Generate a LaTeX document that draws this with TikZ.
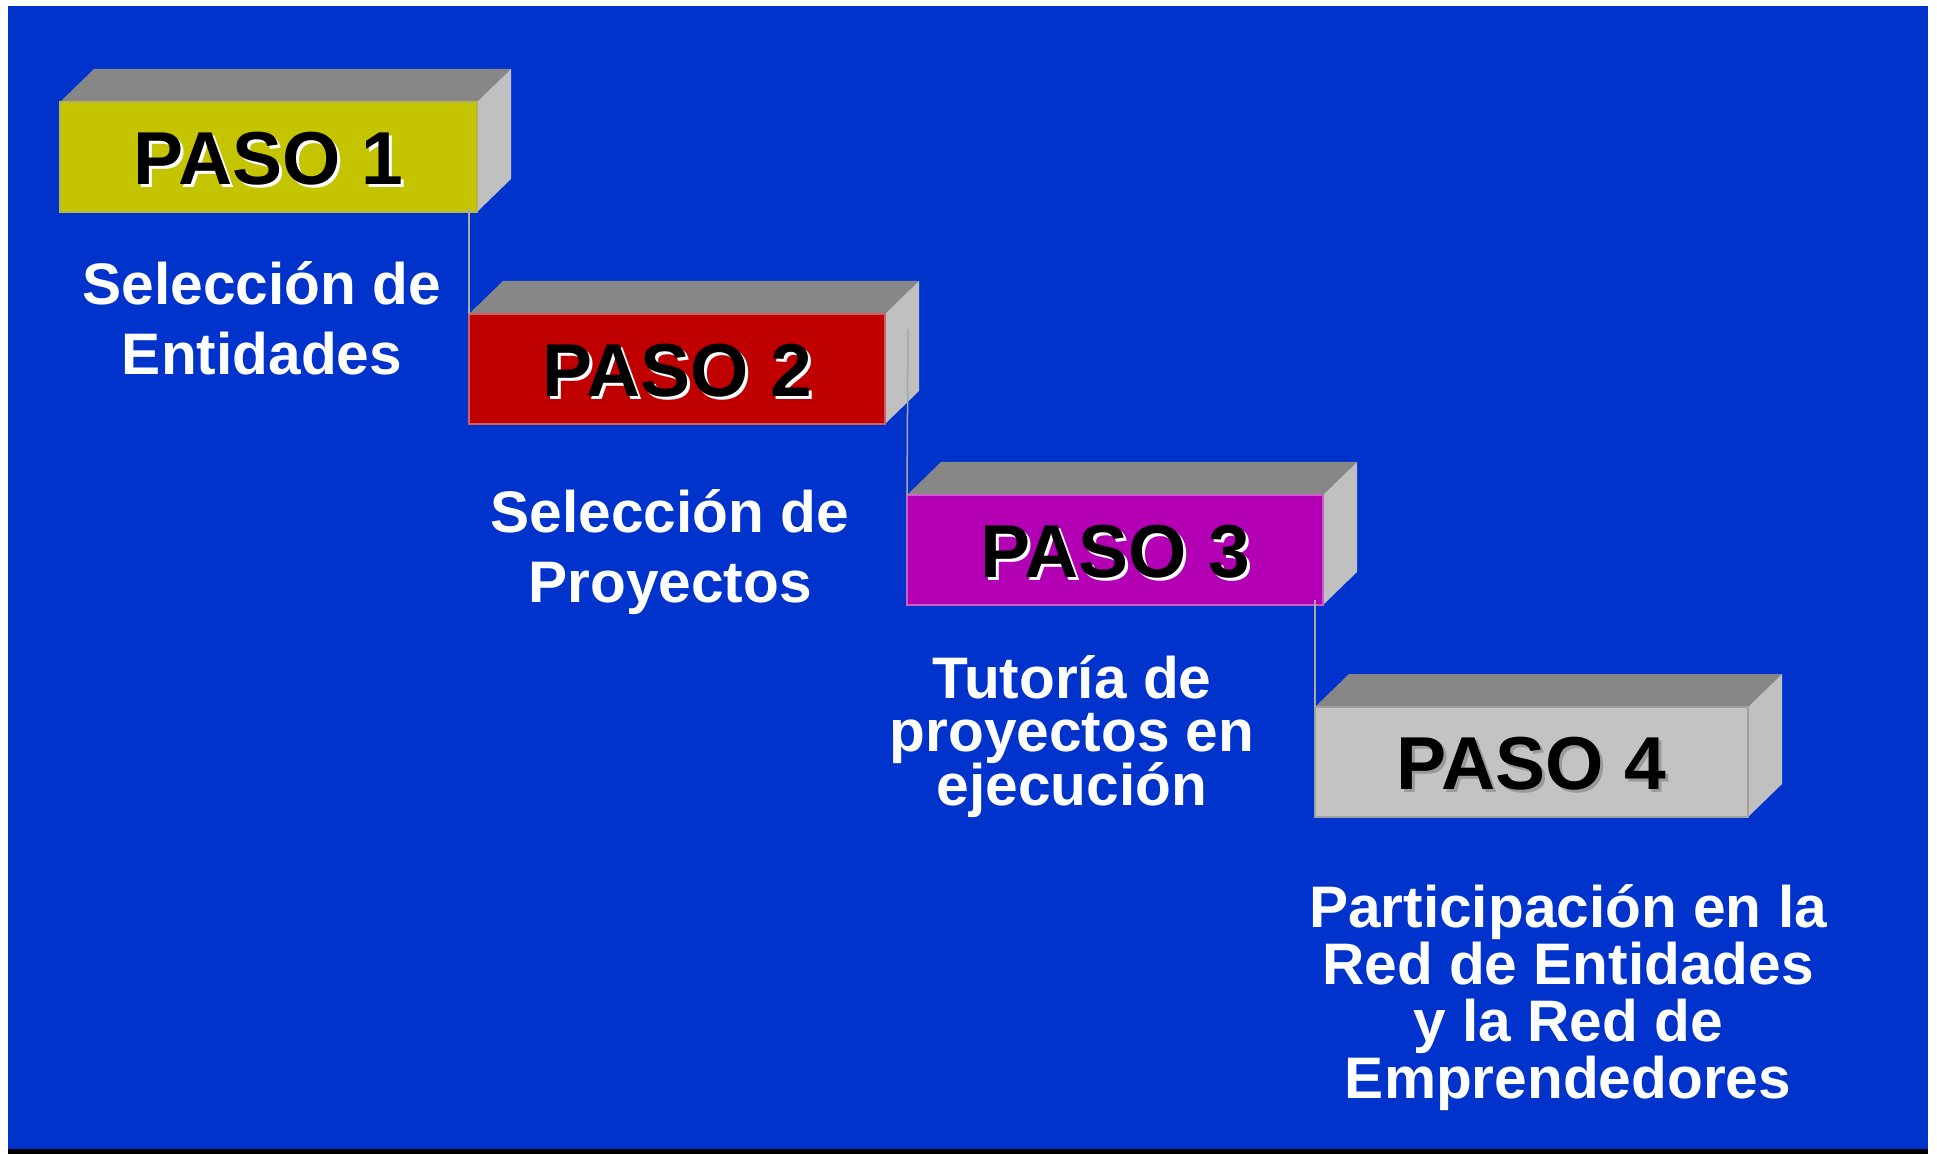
\documentclass[tikz,border=0pt]{standalone}
\usepackage{fontspec}
\setmainfont{Liberation Sans}
\usetikzlibrary{calc}
\definecolor{bgblue}{HTML}{0033CC}
\definecolor{stepyellow}{HTML}{C4C400}
\definecolor{stepred}{HTML}{C00000}
\definecolor{stepmagenta}{HTML}{B400B4}
\definecolor{stepgray}{HTML}{C3C3C3}
\definecolor{edgeyellow}{HTML}{B4B450}
\definecolor{edgered}{HTML}{D06060}
\definecolor{edgemagenta}{HTML}{C860C8}
\definecolor{edgegray}{HTML}{A0A0A0}
\definecolor{topgray}{HTML}{878787}
\definecolor{sidegray}{HTML}{C0C0C0}
\definecolor{linegray}{HTML}{A8A8A8}
\definecolor{shadowgray}{HTML}{9A9A9A}
\pgfdeclarelayer{back}
\pgfsetlayers{back,main}
% #1 name, #2 x, #3 y, #4 width, #5 fill, #6 border, #7 label, #8 shadow colour
\newcommand\stepblock[8]{%
  \node[face, fill=#5, draw=#6, minimum width=#4] (#1) at (#2,#3) {};
  \begin{pgfonlayer}{back}
    \fill[topgray] (#1.north west) -- ++(34,-33) -- ($(#1.north east)+(34,-33)$) -- (#1.north east) -- cycle;
    \fill[sidegray] (#1.north east) -- ++(34,-33) -- ++(0,110) -- (#1.south east) -- cycle;
  \end{pgfonlayer}
  \node[steplabel, text=#8] (#1s) at ($(#1.center)+(3,5)$) {#7};
  \node[steplabel] (#1l) at ($(#1.center)+(0,2)$) {#7};
}
\newcommand\descfont[1]{\fontsize{29.3}{#1}\selectfont\bfseries\lineskiplimit=-100pt\relax}
\begin{document}
\begin{tikzpicture}[x=0.5pt,y=-0.5pt,
  face/.style={line width=0.75pt, minimum height=55pt, inner sep=0pt, outer sep=0pt, anchor=north west},
  steplabel/.style={font=\fontsize{37.5}{40}\selectfont\bfseries, text=black, inner sep=0pt},
  desc/.style={text=white, align=center, inner sep=0pt, anchor=base},
  conn/.style={draw=linegray, line width=0.75pt}
]
\begin{pgfonlayer}{back}
  \fill[white] (0,0) rectangle (1937,1154);
  \fill[bgblue] (8,6) rectangle (1928,1149);
  \fill[black] (8,1149) rectangle (1928,1154);
\end{pgfonlayer}
\useasboundingbox (0,0) rectangle (1937,1154);

\stepblock{f1}{60}{102}{208.5pt}{stepyellow}{edgeyellow}{PASO 1}{white}
\stepblock{f2}{469}{314}{208pt}{stepred}{edgered}{PASO 2}{white}
\stepblock{f3}{907}{495}{208pt}{stepmagenta}{edgemagenta}{PASO 3}{white}
\stepblock{f4}{1315}{707}{216.5pt}{stepgray}{edgegray}{PASO 4}{shadowgray}

\coordinate (c1) at (469,208);
\coordinate (c2) at (908,329);
\coordinate (c3) at (1315,600);
\draw[conn] (c1) -- (f2.north west);
\draw[conn] (c2) -- (f3.north west);
\draw[conn] (c3) -- (f4.north west);

\node[desc, font=\descfont{35}] (t1) at (262,375) {Selección de\\Entidades};
\node[desc, font=\descfont{35}] (t2) at (670,602) {Selección de\\Proyectos};
\node[desc, font=\descfont{26.75}] (t3) at (1072,805) {Tutoría de\\proyectos en\\ejecución};
\node[desc, font=\descfont{28.35}] (t4) at (1568,1098) {Participación en la\\Red de Entidades\\y la Red de\\Emprendedores};
\end{tikzpicture}
\end{document}
